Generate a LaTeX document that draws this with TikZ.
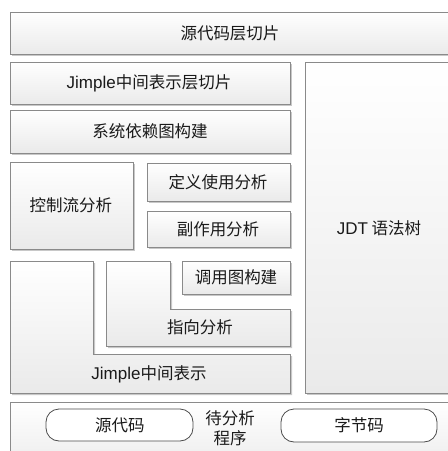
\documentclass[tikz,border=0pt]{standalone}
\usepackage{fontspec}
\setmainfont{Liberation Sans}
\newfontfamily\cjk{Noto Sans CJK SC}
\usetikzlibrary{shadows}
\definecolor{bordergray}{HTML}{8A8A8A}
\definecolor{fillbot}{HTML}{EAEAEA}
\definecolor{shadowgray}{HTML}{C8C8C8}
\definecolor{txt}{HTML}{1A1A1A}
\tikzset{
  layerbox/.style={draw=bordergray, line width=0.9pt, top color=white, bottom color=fillbot,
    drop shadow={shadow xshift=2pt, shadow yshift=-2pt, fill=shadowgray, opacity=1}},
  pill/.style={draw=black!70, line width=0.8pt, fill=white, rounded corners=13pt},
  lbl/.style={text=txt, font=\fontsize{16.5}{20.5}\selectfont\cjk, inner sep=0pt, align=center},
}
\newcommand{\latw}[1]{{\rmfamily\fontsize{17}{20}\selectfont #1}}
\begin{document}
\begin{tikzpicture}[x=1pt,y=-1pt]
\useasboundingbox (0,0) rectangle (448,451);
\clip (0,0) rectangle (448,451);
\fill[white] (0,0) rectangle (448,451);
% boxes
\path[layerbox] (10,12) rectangle (452,54);
\path[layerbox] (10,62) rectangle (290,104);
\path[layerbox] (10,110) rectangle (290,153);
\path[layerbox] (305,62) rectangle (452,393);
\path[layerbox] (10,162) rectangle (133,249);
\path[layerbox] (147,163) rectangle (290,201);
\path[layerbox] (147,211) rectangle (290,247);
\path[layerbox] (182,261) rectangle (290,294);
\path[layerbox] (106,261) -- (170,261) -- (170,309) -- (290,309) -- (290,346) -- (106,346) -- cycle;
\path[layerbox] (10,261) -- (93,261) -- (93,354) -- (290,354) -- (290,393) -- (10,393) -- cycle;
\path[layerbox] (10,402) rectangle (452,475);
\path[pill] (46,409) rectangle (193,441);
\path[pill] (281,409) rectangle (437,442);
% labels
\node[lbl] (srcslice) at (230,33) {源代码层切片};
\node[lbl] (jslice) at (149,83) {\latw{Jimple}中间表示层切片};
\node[lbl] (sdg) at (150,131) {系统依赖图构建};
\node[lbl] (jdt) at (379,228) {\latw{JDT} 语法树};
\node[lbl] (cfa) at (71,205) {控制流分析};
\node[lbl] (defuse) at (218,182) {定义使用分析};
\node[lbl] (side) at (218,229) {副作用分析};
\node[lbl] (cg) at (236,277) {调用图构建};
\node[lbl] (pta) at (200,327) {指向分析};
\node[lbl] (jimple) at (149,374) {\latw{Jimple}中间表示};
\node[lbl] (src) at (120,425) {源代码};
\node[lbl] (prog) at (230,428) {待分析\\程序};
\node[lbl] (bc) at (359,425) {字节码};
\end{tikzpicture}
\end{document}
